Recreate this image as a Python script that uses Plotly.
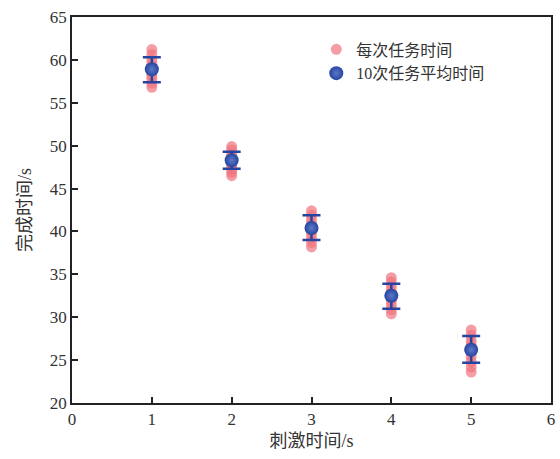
import plotly.graph_objects as go

stim_time = [1, 2, 3, 4, 5]
trial_times = [
    [61.2, 60.6, 60.0, 59.5, 59.1, 58.7, 58.2, 57.8, 57.3, 56.8],
    [49.9, 49.5, 49.0, 48.6, 48.3, 48.0, 47.7, 47.3, 46.9, 46.5],
    [42.4, 41.9, 41.4, 40.9, 40.5, 40.2, 39.7, 39.2, 38.7, 38.2],
    [34.6, 34.1, 33.6, 33.1, 32.6, 32.3, 31.9, 31.4, 30.9, 30.4],
    [28.5, 27.9, 27.3, 26.8, 26.3, 25.9, 25.4, 24.8, 24.2, 23.6],
]
mean_times = [58.9, 48.3, 40.4, 32.5, 26.2]
err_plus = [1.4, 1.0, 1.5, 1.4, 1.6]
err_minus = [1.5, 1.0, 1.4, 1.5, 1.5]

font_family = "Liberation Serif, Noto Sans CJK SC, serif"
blue = "#2545a0"
pink = "rgba(240,115,125,0.7)"

xs, ys = [], []
for x, vals in zip(stim_time, trial_times):
    for v in vals:
        xs.append(x)
        ys.append(v)

fig = go.Figure()
fig.add_trace(go.Scatter(
    x=xs, y=ys, mode="markers", name="每次任务时间",
    marker=dict(size=11, color=pink, line=dict(width=0)),
))
fig.add_trace(go.Scatter(
    x=stim_time, y=mean_times, mode="markers", name="10次任务平均时间",
    marker=dict(size=14, color=blue, line=dict(width=0),
                gradient=dict(type="radial", color="#5d78c8")),
    error_y=dict(type="data", symmetric=False, array=err_plus, arrayminus=err_minus,
                 color=blue, thickness=2.5, width=9),
))

axis_common = dict(
    showline=True, linecolor="#222", linewidth=1.5, mirror=True,
    ticks="inside", ticklen=6, tickwidth=1.5, tickcolor="#222",
    showgrid=False, zeroline=False, automargin=False,
    tickfont=dict(family=font_family, size=17, color="#333"),
)

fig.update_layout(
    width=560, height=459,
    margin=dict(l=72, r=9, t=17, b=56),
    plot_bgcolor="white", paper_bgcolor="white",
    font=dict(family=font_family, color="#333"),
    xaxis=dict(range=[0, 6], dtick=1,
               title=dict(text="刺激时间/s", font=dict(family=font_family, size=18, color="#333"), standoff=6),
               **axis_common),
    yaxis=dict(range=[20, 65], dtick=5,
               title=dict(text="完成时间/s", font=dict(family=font_family, size=18, color="#333"), standoff=14),
               **axis_common),
    legend=dict(x=0.51, y=0.96, xanchor="left", yanchor="top",
                bgcolor="rgba(0,0,0,0)", font=dict(family=font_family, size=16, color="#333"),
                itemwidth=30, tracegroupgap=0),
    showlegend=True,
)

fig.write_html("out.html", config={"displayModeBar": False},
               post_script="document.body.style.margin='0';")
